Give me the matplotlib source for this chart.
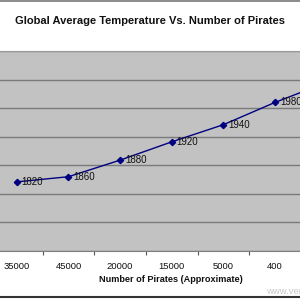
import matplotlib
matplotlib.use("Agg")
import matplotlib.pyplot as plt
from matplotlib.lines import Line2D

pirates = ["35000", "45000", "20000", "15000", "5000", "400", "17"]
years = ["1820", "1860", "1880", "1920", "1940", "1980", "2000"]
temps = [14.21, 14.30, 14.59, 14.91, 15.21, 15.60, 15.95]

font = "Liberation Sans"
fig = plt.figure(figsize=(3, 3), dpi=100)
fig.patch.set_facecolor("white")

# axes extends beyond figure edges (reference is cropped)
ax = fig.add_axes([-9 / 300, 49 / 300, 361.4 / 300, 200 / 300])
ax.set_facecolor("#c2c2c2")
x = list(range(len(pirates)))
ax.plot(x, temps, color="#000080", lw=1.0, marker="D", ms=3.2,
        mfc="#000080", mec="#000080", zorder=3)
for xi, yi, lab in zip(x, temps, years):
    ax.annotate(lab, (xi, yi), xytext=(3.5, 0), textcoords="offset points",
                va="center", ha="left", fontsize=7, family=font,
                color="#111111", zorder=4)

ax.set_xlim(-0.5, len(pirates) - 0.5)
ax.set_ylim(13.0, 16.5)
ax.set_yticks([13.0 + 0.5 * i for i in range(8)])
ax.yaxis.grid(True, color="#7a7a7a", lw=1.0)
ax.set_axisbelow(True)
ax.tick_params(axis="y", left=False, labelleft=False)
ax.set_xticks(x)
ax.set_xticklabels(pirates, fontsize=6.8, family=font, color="#111111")
ax.tick_params(axis="x", length=0, pad=8)
ax.set_xticks([i + 0.5 for i in range(len(pirates) - 1)], minor=True)
ax.tick_params(axis="x", which="minor", length=3, width=0.8, color="#555555")
for s in ["left", "right"]:
    ax.spines[s].set_visible(False)
ax.spines["top"].set_color("#999999")
ax.spines["top"].set_linewidth(0.8)
ax.spines["bottom"].set_color("#808080")
ax.spines["bottom"].set_linewidth(0.8)

fig.text(0.5, 1 - 21 / 300, "Global Average Temperature Vs. Number of Pirates",
         ha="center", va="center", fontsize=8, fontweight="bold",
         family=font, color="#111111")
fig.text(171 / 300, 1 - 280 / 300, "Number of Pirates (Approximate)",
         ha="center", va="center", fontsize=6.6, fontweight="bold",
         family=font, color="#111111")
fig.text(266 / 300, 1 - 291 / 300, "www.venganza.org", ha="left",
         va="center", fontsize=6.8, family=font, color="#c8c8c8")

fig.add_artist(Line2D([0, 1], [1 - 1 / 300, 1 - 1 / 300],
                      transform=fig.transFigure, color="#777777", lw=1.2))
fig.add_artist(Line2D([0, 1], [1 - 297 / 300, 1 - 297 / 300],
                      transform=fig.transFigure, color="#333333", lw=1.5))

fig.savefig("out.png", dpi=100)
